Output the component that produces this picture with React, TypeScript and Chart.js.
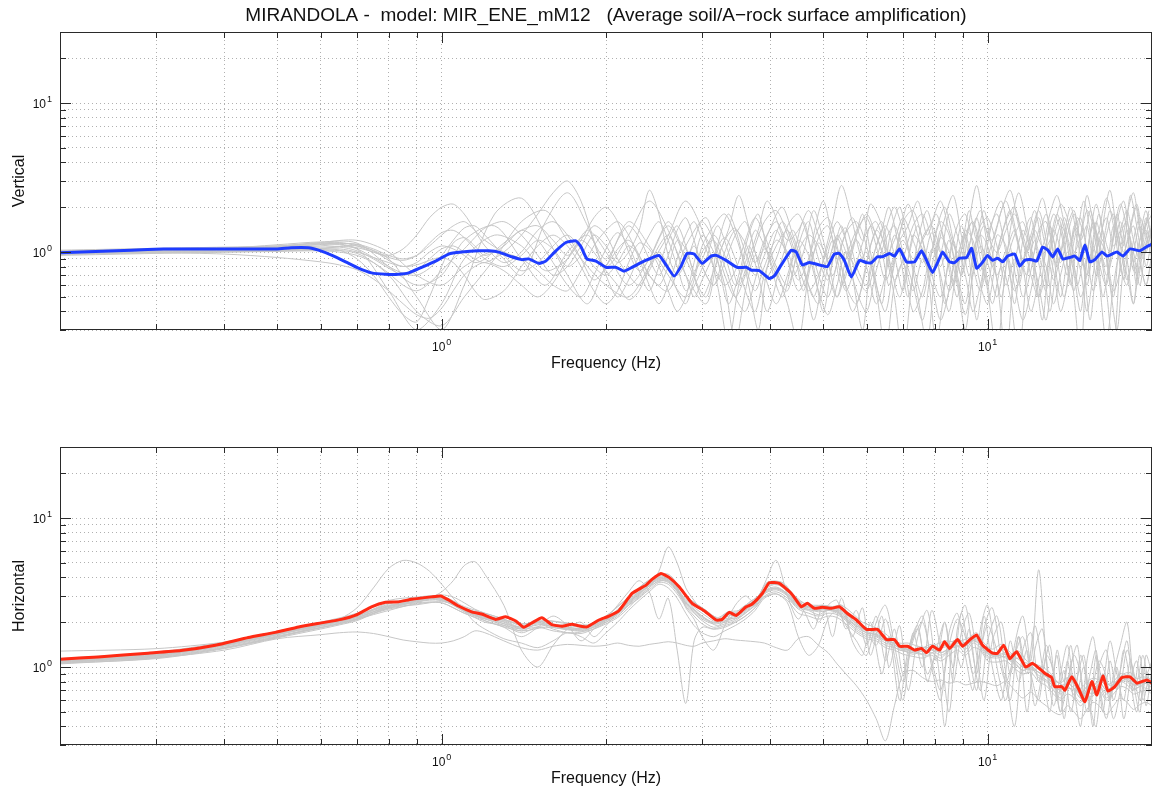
import React, { useEffect, useRef } from 'react';
import { Chart, registerables } from 'chart.js';

Chart.register(...registerables);

// ---------------- text ----------------
const MAIN_TITLE = 'MIRANDOLA -  model: MIR_ENE_mM12   (Average soil/A\u2212rock surface amplification)';
const X_TITLE = 'Frequency (Hz)';
const Y_TITLE_TOP = 'Vertical';
const Y_TITLE_BOTTOM = 'Horizontal';

// ---------------- axes ----------------
const X_MIN = 0.2;
const X_MAX = 20;
const Y_MIN = 0.3;
const Y_MAX = 30;
const X_TICKS = [0.2, 0.3, 0.4, 0.5, 0.6, 0.7, 0.8, 0.9, 1, 2, 3, 4, 5, 6, 7, 8, 9, 10, 20];
const Y_TICKS = [0.3, 0.4, 0.5, 0.6, 0.7, 0.8, 0.9, 1, 2, 3, 4, 5, 6, 7, 8, 9, 10, 20, 30];
const MAJOR_VALUES = [1, 10];
const MAJOR_BASE = '10';
const MAJOR_EXPONENTS = ['0', '1'];

// ---------------- vertical: average (blue) ----------------
const FREQ_V = [0.2, 0.27, 0.31, 0.36, 0.41, 0.5, 0.53, 0.57, 0.595, 0.63, 0.667, 0.704, 0.744, 0.789, 0.834, 0.87, 0.919, 0.975, 1.03, 1.088, 1.169, 1.22, 1.272, 1.344, 1.402, 1.444, 1.507, 1.551, 1.619, 1.689, 1.762, 1.799, 1.845, 1.917, 2.0, 2.086, 2.158, 2.232, 2.348, 2.501, 2.576, 2.666, 2.745, 2.815, 2.9, 3.0, 3.116, 3.182, 3.319, 3.477, 3.612, 3.69, 3.817, 3.981, 4.066, 4.188, 4.369, 4.462, 4.577, 4.714, 4.918, 5.087, 5.24, 5.351, 5.465, 5.63, 5.823, 5.998, 6.126, 6.283, 6.417, 6.61, 6.751, 6.895, 7.103, 7.347, 7.567, 7.729, 7.927, 8.165, 8.269, 8.518, 8.698, 8.884, 9.152, 9.346, 9.546, 9.75, 10.0, 10.21, 10.43, 10.65, 10.88, 11.21, 11.45, 11.69, 12.04, 12.3, 12.61, 12.89, 13.16, 13.44, 13.73, 14.14, 14.44, 14.75, 15.07, 15.39, 15.72, 16.19, 16.54, 16.89, 17.25, 17.7, 18.23, 19.01, 19.58, 20.0];
const MEAN_V = [0.99, 1.03, 1.05, 1.05, 1.05, 1.05, 1.07, 1.07, 1.03, 0.95, 0.86, 0.78, 0.725, 0.71, 0.71, 0.725, 0.79, 0.87, 0.97, 1.0, 1.02, 1.02, 1.0, 0.93, 0.89, 0.9, 0.84, 0.87, 1.02, 1.16, 1.19, 1.09, 0.9, 0.87, 0.79, 0.79, 0.745, 0.79, 0.87, 0.95, 0.82, 0.69, 0.805, 0.98, 0.97, 0.84, 0.94, 0.95, 0.88, 0.79, 0.79, 0.756, 0.75, 0.665, 0.69, 0.82, 1.03, 1.0, 0.82, 0.85, 0.82, 0.8, 0.97, 0.98, 0.88, 0.68, 0.88, 0.85, 0.85, 0.93, 0.93, 0.98, 0.94, 1.05, 0.86, 0.86, 1.02, 0.88, 0.73, 0.91, 1.0, 0.86, 0.85, 0.91, 0.92, 1.06, 0.78, 0.84, 0.95, 0.88, 0.91, 0.86, 0.94, 0.97, 0.805, 0.88, 0.89, 0.87, 1.08, 1.03, 0.93, 1.05, 0.9, 0.92, 0.94, 0.88, 1.115, 0.86, 0.89, 1.0, 0.94, 0.97, 1.0, 0.94, 1.05, 1.02, 1.09, 1.13];

// ---------------- horizontal: average (red) ----------------
const FREQ_H = [0.2, 0.235, 0.29, 0.333, 0.385, 0.4425, 0.496, 0.547, 0.602, 0.655, 0.696, 0.744, 0.789, 0.834, 0.881, 0.958, 0.996, 1.03, 1.074, 1.135, 1.184, 1.256, 1.31, 1.367, 1.414, 1.463, 1.526, 1.591, 1.66, 1.732, 1.784, 1.845, 1.941, 2.025, 2.112, 2.232, 2.368, 2.428, 2.522, 2.609, 2.722, 2.876, 3.025, 3.182, 3.264, 3.362, 3.463, 3.612, 3.705, 3.866, 3.981, 4.153, 4.369, 4.557, 4.674, 4.815, 4.981, 5.173, 5.351, 5.536, 5.751, 5.998, 6.283, 6.527, 6.751, 6.895, 7.134, 7.347, 7.567, 7.729, 7.927, 8.165, 8.34, 8.518, 8.81, 8.998, 9.268, 9.546, 9.79, 10.21, 10.43, 10.7, 10.98, 11.3, 11.74, 12.09, 12.72, 13.1, 13.27, 13.67, 13.85, 14.26, 14.69, 15.07, 15.52, 15.85, 16.26, 16.61, 17.1, 17.62, 18.23, 18.77, 19.58, 20.0];
const MEAN_H = [1.13, 1.17, 1.24, 1.29, 1.4, 1.58, 1.71, 1.86, 1.98, 2.09, 2.23, 2.54, 2.72, 2.74, 2.85, 2.96, 3.0, 2.82, 2.57, 2.35, 2.27, 2.09, 2.18, 2.04, 1.85, 1.98, 2.14, 1.93, 1.88, 1.94, 1.89, 1.86, 2.07, 2.2, 2.39, 3.12, 3.55, 3.88, 4.25, 4.0, 3.46, 2.68, 2.39, 2.07, 2.09, 2.33, 2.22, 2.54, 2.65, 3.12, 3.68, 3.645, 3.12, 2.54, 2.68, 2.48, 2.52, 2.48, 2.54, 2.29, 2.07, 1.79, 1.79, 1.53, 1.53, 1.38, 1.38, 1.3, 1.335, 1.25, 1.38, 1.3, 1.48, 1.335, 1.53, 1.38, 1.52, 1.64, 1.4, 1.24, 1.24, 1.4, 1.14, 1.27, 1.0, 1.06, 0.91, 0.85, 0.74, 0.74, 0.7, 0.86, 0.71, 0.585, 0.8, 0.65, 0.87, 0.69, 0.74, 0.85, 0.86, 0.78, 0.82, 0.78];

// ---------------- individual records (grey) ----------------
const FREQ_G = [0.2, 0.3, 0.4, 0.5, 0.6, 0.65, 0.7, 0.75, 0.8, 0.85, 0.9, 0.95, 1.0, 1.05, 1.1, 1.15, 1.2, 1.3, 1.4, 1.5, 1.6, 1.7, 1.8, 1.9, 2.0, 2.1, 2.2, 2.3, 2.4, 2.5, 2.6, 2.7, 2.8, 2.9, 3.0, 3.15, 3.3, 3.45, 3.6, 3.75, 3.9, 4.1, 4.3, 4.5, 4.7, 4.9, 5.1, 5.3, 5.5, 5.75, 6.0, 6.25, 6.5, 6.75, 7.0, 7.3, 7.6, 7.9, 8.2, 8.5, 8.8, 9.1, 9.4, 9.7, 10.0, 10.4, 10.8, 11.2, 11.6, 12.0, 12.4, 12.8, 13.2, 13.6, 14.0, 14.4, 14.8, 15.2, 15.6, 16.0, 16.5, 17.0, 17.5, 18.0, 18.5, 19.0, 19.5, 20.0];
const FREQ_G2 = [0.2, 0.3, 0.4, 0.5, 0.6, 0.7, 0.8, 0.9, 1.0, 1.1, 1.25, 1.4, 1.55, 1.7, 1.85, 2.0, 2.2, 2.4, 2.6, 2.8, 3.05, 3.2, 3.35, 3.5, 3.65, 3.8, 3.95, 4.2, 4.4, 4.6, 4.8, 5.0, 5.2, 5.4, 5.65, 5.9, 6.1, 6.4, 6.6, 6.9, 7.15, 7.45, 7.75, 8.05, 8.35, 8.65, 8.95, 9.25, 9.55, 9.85, 10.2, 10.6, 11.0, 11.4, 11.8, 12.2, 12.6, 13.0, 13.4, 13.8, 14.2, 14.6, 15.0, 15.4, 15.8, 16.25, 16.75, 17.25, 17.75, 18.25, 18.75, 19.25, 19.75];

const V_REC_01 = [0.98, 1.02, 1.05, 1.06, 1.1, 1.12, 1.05, 0.92, 0.8, 0.72, 0.7, 0.78, 0.95, 1.2, 1.45, 1.5, 1.3, 0.95, 0.75, 0.85, 1.1, 1.3, 1.05, 0.8, 0.7, 0.85, 1.1, 0.95, 0.7, 0.6, 0.8, 1.2, 1.05, 0.75, 0.9, 1.3, 0.95, 0.6, 0.85, 1.4, 1.1, 0.7, 0.55, 1.1, 1.6, 0.9, 0.65, 1.2, 1.45, 0.8, 0.6, 1.1, 1.5, 0.95, 0.55, 1.3, 1.05, 0.7, 1.4, 0.85, 0.5, 1.2, 1.6, 0.9, 0.6, 1.3, 1.1, 0.45, 1.2, 1.7, 0.85, 0.55, 1.4, 1.05, 0.7, 1.5, 1.2, 0.6, 1.1, 1.8, 0.9, 0.5, 1.3, 1.6, 0.85, 1.2, 1.4, 1.05];
const V_REC_02 = [1.0, 0.99, 0.97, 0.92, 0.86, 0.82, 0.76, 0.66, 0.55, 0.45, 0.38, 0.36, 0.42, 0.55, 0.7, 0.8, 0.85, 0.75, 0.6, 0.5, 0.62, 0.9, 1.2, 1.0, 0.75, 0.6, 0.48, 0.55, 0.8, 1.1, 1.3, 1.0, 0.7, 0.5, 0.65, 0.95, 1.25, 0.9, 0.55, 0.4, 0.7, 1.1, 1.4, 0.95, 0.6, 0.45, 0.8, 1.3, 1.0, 0.55, 0.4, 0.75, 1.2, 1.5, 1.0, 0.6, 0.35, 0.8, 1.25, 1.0, 0.6, 0.3, 0.75, 1.3, 1.1, 0.65, 0.2, 0.8, 1.4, 1.0, 0.6, 0.35, 0.9, 1.5, 1.2, 0.7, 0.4, 0.95, 1.6, 1.1, 0.55, 0.22, 0.85, 1.4, 1.0, 0.6, 1.1, 1.3];
const V_REC_03 = [1.03, 1.06, 1.08, 1.1, 1.15, 1.16, 1.1, 1.0, 0.95, 1.05, 1.3, 1.7, 2.0, 2.1, 1.8, 1.4, 1.1, 0.85, 1.0, 1.4, 1.6, 1.3, 0.9, 0.65, 0.8, 1.2, 1.5, 1.25, 0.9, 0.7, 0.95, 1.4, 1.7, 1.2, 0.8, 0.6, 0.85, 1.3, 1.6, 1.0, 0.65, 0.9, 1.5, 1.8, 1.2, 0.7, 0.5, 0.85, 1.35, 1.6, 1.1, 0.6, 0.4, 0.9, 1.6, 1.9, 1.2, 0.7, 0.5, 0.9, 1.5, 1.8, 1.1, 0.6, 0.45, 0.95, 1.6, 2.0, 1.2, 0.7, 0.5, 1.1, 1.8, 1.4, 0.8, 0.55, 1.2, 1.9, 1.5, 0.85, 0.6, 1.3, 2.1, 1.4, 0.75, 1.0, 1.7, 1.2];
const V_REC_04 = [0.97, 1.0, 1.03, 1.04, 1.06, 1.08, 1.02, 0.9, 0.78, 0.7, 0.75, 0.9, 1.05, 1.1, 1.0, 0.9, 0.85, 1.0, 1.3, 1.8, 2.5, 3.0, 2.2, 1.2, 0.7, 0.5, 0.65, 0.95, 1.3, 1.6, 1.2, 0.8, 0.55, 0.7, 1.1, 1.5, 1.8, 1.3, 0.8, 0.55, 0.8, 1.2, 1.0, 0.65, 0.9, 1.45, 1.7, 1.1, 0.6, 0.45, 0.85, 1.4, 1.1, 0.65, 0.9, 1.5, 1.8, 1.2, 0.7, 0.4, 0.85, 1.4, 1.2, 0.75, 1.3, 1.8, 1.0, 0.55, 0.85, 1.3, 1.9, 1.2, 0.65, 0.95, 1.5, 1.9, 1.1, 0.7, 1.0, 1.4, 2.3, 1.5, 0.8, 0.6, 1.2, 1.7, 1.3, 0.9];
const V_REC_05 = [0.99, 1.01, 1.02, 1.03, 1.05, 1.03, 0.9, 0.7, 0.5, 0.38, 0.34, 0.5, 0.8, 1.15, 1.25, 1.1, 0.95, 1.1, 1.4, 1.2, 0.85, 0.6, 0.5, 0.7, 1.05, 1.35, 1.1, 0.75, 0.55, 0.8, 1.2, 1.5, 1.1, 0.7, 0.5, 0.75, 1.2, 1.45, 1.0, 0.7, 0.95, 1.4, 0.9, 0.55, 0.75, 1.25, 1.5, 0.9, 0.55, 0.85, 1.35, 1.6, 1.0, 0.5, 0.2, 0.7, 1.25, 1.5, 1.0, 0.55, 0.8, 1.3, 1.6, 1.1, 0.55, 0.22, 0.8, 1.3, 1.6, 1.0, 0.5, 0.75, 1.25, 1.7, 1.1, 0.5, 0.2, 0.9, 1.5, 1.2, 0.7, 1.0, 1.6, 0.9, 0.45, 1.2, 1.9, 1.1];
const V_REC_06 = [1.01, 1.04, 1.06, 1.08, 1.12, 1.14, 1.13, 1.05, 0.95, 0.9, 0.95, 1.1, 1.3, 1.5, 1.6, 1.4, 1.2, 1.0, 0.9, 0.75, 0.6, 0.55, 0.75, 1.1, 1.4, 1.6, 1.3, 0.9, 0.6, 0.45, 0.6, 0.9, 1.3, 1.6, 1.2, 0.8, 0.6, 0.75, 1.2, 1.7, 1.3, 0.8, 0.6, 1.0, 1.3, 1.1, 0.7, 0.5, 0.9, 1.4, 1.7, 1.1, 0.65, 0.9, 1.2, 0.8, 0.5, 1.0, 1.6, 1.3, 0.7, 0.45, 0.95, 1.5, 1.7, 1.1, 0.6, 0.9, 0.5, 0.75, 1.4, 1.6, 0.95, 0.5, 0.9, 1.4, 1.7, 1.0, 0.55, 0.8, 1.3, 1.8, 1.1, 0.65, 1.0, 1.5, 0.8, 1.25];
const V_REC_07 = [0.96, 0.99, 1.0, 1.01, 1.02, 1.0, 0.95, 0.85, 0.72, 0.6, 0.55, 0.62, 0.75, 0.9, 1.05, 1.25, 1.45, 1.6, 1.3, 0.95, 0.7, 0.8, 1.1, 1.5, 1.3, 0.9, 0.7, 0.6, 0.75, 1.0, 0.8, 0.55, 0.45, 0.65, 1.0, 1.2, 0.8, 0.5, 0.4, 0.65, 1.05, 0.75, 0.45, 0.25, 0.7, 1.15, 0.85, 0.5, 0.75, 1.2, 0.8, 0.45, 0.7, 1.3, 0.9, 0.4, 0.55, 1.05, 0.8, 1.2, 0.65, 0.38, 0.7, 1.1, 0.85, 0.5, 0.95, 1.4, 0.8, 0.4, 0.65, 1.1, 0.75, 0.4, 0.6, 1.0, 0.75, 0.4, 0.7, 1.2, 0.95, 0.55, 0.75, 1.15, 1.5, 0.9, 0.6, 0.95];
const V_REC_08 = [1.02, 1.05, 1.07, 1.09, 1.13, 1.15, 1.12, 1.02, 0.88, 0.8, 0.85, 1.0, 1.1, 1.05, 0.95, 0.85, 0.9, 1.15, 1.4, 1.5, 1.2, 0.95, 1.2, 1.7, 2.0, 1.6, 1.0, 0.75, 0.9, 1.25, 1.6, 1.3, 0.9, 1.2, 1.6, 1.2, 0.7, 0.5, 0.7, 1.1, 1.6, 1.9, 1.3, 0.8, 0.55, 0.7, 1.1, 1.6, 1.2, 0.7, 0.55, 0.9, 1.4, 2.0, 1.4, 0.9, 1.2, 1.6, 2.2, 1.4, 1.0, 1.3, 0.8, 0.55, 0.9, 1.5, 2.2, 1.4, 0.9, 1.2, 1.7, 1.1, 1.4, 2.1, 1.7, 1.0, 1.3, 2.4, 1.6, 1.1, 0.8, 1.5, 1.1, 1.8, 2.5, 1.4, 1.0, 1.6];
const V_REC_09 = [0.98, 1.0, 1.01, 1.02, 1.04, 1.05, 1.0, 0.92, 0.85, 0.8, 0.82, 0.88, 0.92, 0.85, 0.7, 0.55, 0.48, 0.55, 0.8, 1.1, 1.3, 1.1, 0.8, 0.55, 0.45, 0.55, 0.85, 1.15, 1.05, 0.8, 0.55, 0.4, 0.5, 0.85, 1.3, 1.0, 0.6, 0.25, 0.55, 0.95, 0.7, 0.45, 0.7, 1.2, 0.95, 0.55, 0.38, 0.6, 1.0, 0.8, 1.0, 0.55, 0.22, 0.6, 0.85, 0.55, 0.9, 0.6, 0.35, 0.55, 1.0, 0.7, 0.4, 0.6, 0.95, 0.7, 1.0, 0.6, 0.35, 0.55, 1.0, 0.8, 0.45, 0.7, 1.0, 0.8, 0.5, 0.7, 1.1, 0.65, 0.25, 0.6, 1.0, 0.7, 0.45, 0.8, 0.6, 1.0];
const V_REC_10 = [1.0, 1.03, 1.05, 1.07, 1.08, 1.09, 1.07, 1.0, 0.92, 0.88, 0.95, 1.15, 1.35, 1.4, 1.25, 1.05, 0.9, 0.8, 0.95, 1.2, 1.05, 0.8, 0.95, 1.3, 1.1, 0.85, 1.0, 1.4, 2.6, 1.8, 0.95, 0.7, 0.85, 1.1, 0.8, 0.6, 1.0, 1.4, 1.15, 0.85, 1.2, 1.6, 1.2, 1.4, 1.9, 1.3, 0.9, 1.25, 0.9, 1.3, 1.8, 1.3, 0.95, 1.2, 1.7, 1.2, 0.85, 1.35, 1.0, 1.8, 1.3, 0.9, 1.4, 1.9, 1.3, 1.0, 1.4, 1.8, 1.3, 0.9, 1.25, 1.8, 1.2, 0.85, 1.3, 1.8, 1.2, 1.5, 0.9, 1.2, 1.7, 1.1, 1.4, 1.9, 1.2, 0.9, 1.5, 1.8];
const V_REC_11 = [1.0, 1.02, 1.04, 1.08, 1.14, 1.05, 0.55, 0.3, 0.45, 0.9, 1.3, 1.1, 0.75, 0.9, 1.4, 1.0, 0.6, 0.9, 1.5, 0.9, 0.5, 1.1, 1.8, 1.2, 0.6, 0.3, 0.8, 1.6, 1.1, 0.55, 1.3, 2.2, 1.2, 0.6, 1.0, 1.8, 1.0, 0.45, 1.2, 2.0, 1.1, 0.5, 0.25, 0.9, 1.7, 2.4, 1.3, 0.7, 1.2, 1.9, 1.0, 0.5, 1.4, 2.5, 1.5, 0.8, 0.35, 1.1, 1.8, 1.2, 0.6, 1.3, 2.2, 1.4, 0.7, 1.5, 2.6, 1.3, 0.65, 1.4, 2.0, 1.1, 1.6];
const V_REC_12 = [0.95, 0.98, 1.0, 1.02, 1.05, 1.1, 0.9, 0.5, 0.3, 0.6, 1.8, 2.3, 1.3, 0.7, 0.45, 0.8, 1.2, 0.7, 0.55, 1.1, 1.7, 0.9, 0.45, 0.7, 1.3, 1.8, 1.0, 0.5, 0.9, 1.6, 0.8, 0.4, 0.9, 1.5, 0.7, 0.3, 0.8, 1.4, 2.0, 1.0, 0.5, 1.2, 1.9, 1.0, 0.45, 0.8, 1.5, 0.9, 0.35, 0.8, 1.6, 2.2, 1.1, 0.6, 1.2, 1.9, 1.0, 0.4, 0.9, 1.7, 1.2, 0.6, 1.0, 1.9, 1.3, 0.5, 0.9, 1.6, 2.2, 1.2, 0.7, 1.3, 1.9];
const V_REC_13 = [1.02, 1.04, 1.06, 1.1, 1.16, 1.2, 1.0, 0.7, 0.6, 0.8, 1.0, 0.7, 1.6, 2.5, 1.5, 0.8, 1.3, 2.2, 1.4, 0.7, 0.45, 0.9, 1.4, 2.4, 1.5, 0.9, 1.3, 2.0, 1.3, 0.8, 0.5, 0.9, 1.6, 2.8, 1.6, 0.9, 1.5, 1.0, 0.6, 1.3, 2.1, 1.3, 0.8, 1.4, 2.0, 1.2, 0.7, 1.6, 2.8, 1.5, 0.8, 1.3, 1.9, 1.1, 0.7, 1.5, 2.3, 1.4, 0.8, 1.3, 2.0, 1.2, 0.8, 1.3, 2.1, 1.4, 1.0, 1.8, 1.1, 2.4, 1.5, 0.9, 1.4];
const V_REC_14 = [0.97, 0.99, 1.01, 1.02, 1.03, 0.98, 0.7, 0.4, 0.32, 0.5, 0.9, 1.6, 1.9, 1.2, 0.8, 0.6, 0.5, 0.8, 1.3, 2.2, 1.2, 0.6, 0.25, 0.6, 1.1, 0.7, 0.4, 0.9, 1.4, 0.8, 0.35, 0.7, 1.2, 0.8, 0.4, 0.6, 1.1, 1.6, 0.9, 0.5, 0.9, 1.5, 0.8, 0.25, 0.6, 1.2, 0.7, 1.1, 1.7, 0.9, 0.45, 0.8, 0.5, 0.2, 0.7, 1.2, 0.8, 1.5, 0.9, 0.5, 0.9, 1.4, 0.8, 0.35, 0.75, 1.2, 0.6, 0.3, 0.8, 1.1, 0.6, 1.0, 1.3];
const V_REC_15 = [1.01, 1.03, 1.06, 1.12, 1.17, 1.15, 0.8, 0.6, 0.7, 1.2, 1.5, 0.9, 0.6, 1.0, 1.3, 0.9, 1.6, 1.1, 0.7, 0.5, 0.9, 1.5, 1.0, 0.6, 0.9, 1.4, 2.2, 1.3, 0.7, 1.0, 1.9, 1.2, 0.7, 1.1, 1.7, 1.2, 2.1, 1.5, 0.8, 1.2, 1.5, 2.2, 1.3, 1.8, 1.1, 0.6, 1.0, 1.9, 1.2, 1.5, 1.2, 1.9, 2.6, 1.5, 1.0, 1.4, 1.1, 1.8, 2.4, 1.6, 1.1, 1.7, 1.3, 0.9, 1.6, 1.2, 1.9, 1.4, 1.0, 1.5, 2.1, 1.4, 1.8];

const H_REC_01 = [1.08, 1.18, 1.38, 1.62, 1.85, 1.95, 2.1, 2.35, 2.55, 2.65, 2.75, 2.85, 2.8, 2.6, 2.35, 2.2, 2.1, 1.95, 1.75, 1.95, 1.8, 1.7, 1.72, 1.85, 2.0, 2.2, 2.6, 3.0, 3.4, 3.8, 3.7, 3.2, 2.6, 2.3, 2.05, 1.85, 1.95, 2.05, 2.3, 2.6, 3.1, 3.3, 3.0, 2.5, 2.4, 2.25, 2.4, 2.3, 2.1, 1.8, 1.65, 1.6, 1.45, 1.4, 1.3, 1.22, 1.28, 1.25, 1.15, 1.3, 1.4, 1.25, 1.45, 1.35, 1.15, 1.2, 1.15, 1.05, 0.95, 1.0, 0.85, 0.8, 0.7, 0.62, 0.75, 0.65, 0.58, 0.68, 0.66, 0.75, 0.62, 0.72, 0.8, 0.76, 0.7, 0.74, 0.72, 0.7];
const H_REC_02 = [1.28, 1.33, 1.47, 1.68, 1.92, 2.02, 2.15, 2.35, 2.5, 2.62, 2.78, 2.95, 3.05, 2.95, 2.7, 2.45, 2.3, 2.1, 1.9, 2.05, 1.9, 1.85, 1.82, 1.95, 2.15, 2.35, 2.75, 3.15, 3.6, 4.0, 3.85, 3.35, 2.75, 2.45, 2.2, 2.0, 2.1, 2.2, 2.45, 2.75, 3.25, 3.45, 3.1, 2.65, 2.55, 2.45, 2.5, 2.45, 2.25, 1.95, 1.8, 1.72, 1.55, 1.5, 1.38, 1.32, 1.35, 1.42, 1.35, 1.4, 1.55, 1.45, 1.6, 1.5, 1.3, 1.25, 1.32, 1.18, 1.08, 1.05, 0.98, 0.92, 0.82, 0.78, 0.85, 0.78, 0.72, 0.8, 0.84, 0.82, 0.76, 0.8, 0.9, 0.88, 0.82, 0.8, 0.85, 0.82];
const H_REC_03 = [1.05, 1.15, 1.35, 1.58, 1.9, 2.1, 2.5, 3.4, 4.6, 5.2, 5.0, 4.4, 3.6, 2.9, 2.4, 2.0, 1.8, 1.55, 1.45, 1.35, 1.5, 1.7, 1.6, 1.45, 1.7, 2.0, 2.4, 2.8, 3.2, 3.6, 3.4, 2.9, 2.3, 1.9, 1.7, 1.6, 1.75, 1.9, 2.1, 2.4, 2.9, 3.1, 2.8, 2.3, 2.2, 2.1, 2.2, 2.15, 1.95, 1.7, 1.55, 1.5, 1.35, 1.3, 1.22, 1.18, 1.15, 1.2, 1.1, 1.2, 1.3, 1.2, 1.35, 1.3, 1.1, 1.08, 1.1, 0.98, 0.9, 0.92, 0.8, 0.75, 0.66, 0.6, 0.66, 0.62, 0.55, 0.62, 0.64, 0.7, 0.6, 0.66, 0.74, 0.72, 0.66, 0.68, 0.7, 0.66];
const H_REC_04 = [1.1, 1.2, 1.4, 1.65, 1.92, 2.0, 2.1, 2.25, 2.4, 2.55, 2.7, 2.9, 3.2, 3.8, 4.8, 5.1, 4.2, 2.6, 1.3, 1.0, 1.4, 1.8, 2.0, 1.6, 1.9, 2.3, 2.6, 2.9, 3.4, 4.4, 6.4, 5.0, 3.4, 2.8, 2.4, 2.2, 2.0, 2.3, 2.6, 2.8, 3.3, 3.6, 3.2, 2.8, 2.6, 2.5, 2.55, 2.35, 2.1, 1.9, 1.7, 1.65, 1.5, 1.45, 1.35, 1.28, 1.3, 1.38, 1.25, 1.35, 1.5, 1.4, 1.55, 1.45, 1.25, 1.2, 1.25, 1.12, 1.0, 1.0, 0.92, 0.88, 0.76, 0.7, 0.78, 0.72, 0.66, 0.74, 0.76, 0.8, 0.7, 0.76, 0.84, 0.84, 0.76, 0.76, 0.8, 0.76];
const H_REC_05 = [1.1, 1.16, 1.3, 1.55, 1.65, 1.7, 1.72, 1.68, 1.6, 1.52, 1.48, 1.45, 1.45, 1.5, 1.6, 1.75, 1.7, 1.5, 1.35, 1.3, 1.38, 1.42, 1.4, 1.38, 1.4, 1.45, 1.4, 1.38, 1.42, 1.45, 1.48, 1.45, 1.4, 1.38, 1.45, 1.5, 1.55, 1.52, 1.5, 1.48, 1.45, 1.35, 1.3, 1.55, 1.6, 1.4, 1.25, 1.05, 0.9, 0.75, 0.6, 0.45, 0.32, 0.55, 0.9, 0.95, 0.85, 0.8, 0.82, 0.78, 0.8, 0.76, 0.78, 0.8, 0.78, 0.75, 0.8, 0.7, 0.62, 0.68, 0.6, 0.55, 0.5, 0.48, 0.55, 0.5, 0.45, 0.52, 0.58, 0.55, 0.48, 0.55, 0.62, 0.58, 0.52, 0.56, 0.58, 0.55];
const H_REC_06 = [1.07, 1.17, 1.36, 1.6, 1.83, 1.95, 2.08, 2.3, 2.48, 2.58, 2.62, 2.7, 2.75, 2.65, 2.45, 2.25, 2.05, 1.85, 1.6, 1.85, 2.2, 1.9, 1.5, 1.8, 2.1, 2.6, 3.2, 3.8, 3.2, 2.1, 2.9, 1.3, 0.57, 1.5, 1.85, 1.8, 1.9, 2.0, 2.2, 2.5, 3.0, 3.2, 2.9, 2.45, 2.3, 2.2, 2.3, 2.25, 2.05, 1.75, 1.6, 1.55, 1.4, 1.35, 1.28, 1.25, 1.22, 1.3, 1.2, 1.3, 1.45, 1.32, 1.5, 1.4, 1.18, 1.15, 1.18, 1.08, 0.95, 0.98, 0.88, 0.82, 0.74, 0.66, 0.72, 0.7, 0.62, 0.7, 0.72, 0.76, 0.66, 0.72, 0.8, 0.8, 0.72, 0.74, 0.78, 0.72];
const H_REC_07 = [1.12, 1.22, 1.42, 1.7, 1.95, 2.05, 2.2, 2.45, 2.6, 2.7, 2.85, 2.95, 2.9, 2.7, 2.4, 2.25, 2.15, 2.0, 1.8, 2.0, 1.85, 1.8, 1.8, 1.95, 2.1, 2.3, 2.75, 3.2, 3.7, 4.1, 3.9, 3.4, 2.5, 2.1, 1.6, 1.3, 1.9, 2.6, 3.0, 2.7, 3.6, 5.2, 3.0, 2.1, 2.7, 2.0, 2.6, 2.8, 1.8, 2.4, 1.4, 2.2, 1.1, 1.8, 0.9, 1.6, 2.2, 1.0, 0.6, 1.7, 2.3, 1.2, 0.7, 1.8, 2.6, 1.0, 0.6, 1.4, 2.2, 1.1, 4.5, 1.2, 0.55, 0.9, 1.4, 0.7, 0.4, 1.1, 1.6, 0.8, 0.45, 0.9, 1.4, 2.0, 0.8, 0.5, 1.2, 0.9];
const H_REC_08 = [1.06, 1.14, 1.33, 1.57, 1.8, 1.92, 2.05, 2.28, 2.45, 2.55, 2.65, 2.72, 2.7, 2.5, 2.3, 2.15, 2.0, 1.9, 1.7, 1.85, 1.75, 1.7, 1.68, 1.8, 1.95, 2.15, 2.5, 2.95, 3.3, 3.7, 3.6, 3.1, 2.55, 2.2, 1.95, 1.8, 1.85, 2.0, 2.2, 2.5, 2.95, 3.1, 2.7, 1.6, 1.2, 1.4, 2.1, 2.4, 1.9, 1.5, 1.2, 2.0, 2.6, 1.4, 0.8, 1.5, 2.0, 1.1, 0.7, 1.4, 2.1, 1.6, 0.9, 1.3, 1.9, 1.3, 0.8, 1.2, 1.6, 0.9, 0.6, 1.2, 0.95, 0.5, 0.8, 1.2, 0.9, 0.5, 0.75, 1.1, 0.85, 0.45, 0.7, 1.3, 0.9, 0.6, 0.85, 1.1];
const H_REC_09 = [1.09, 1.19, 1.4, 1.65, 1.88, 1.98, 2.12, 2.4, 2.55, 2.68, 2.8, 2.88, 2.85, 2.62, 2.38, 2.22, 2.12, 2.02, 1.82, 1.98, 1.85, 1.78, 1.75, 1.88, 2.05, 2.25, 2.65, 3.05, 3.5, 3.9, 3.75, 3.25, 2.65, 2.35, 2.1, 1.95, 2.0, 2.1, 2.35, 2.65, 3.15, 3.35, 3.05, 2.55, 2.45, 2.35, 2.4, 2.35, 2.15, 1.85, 1.7, 1.65, 1.5, 1.45, 1.32, 1.3, 1.28, 1.32, 1.25, 1.32, 1.48, 1.38, 1.52, 1.42, 1.22, 1.18, 1.22, 1.12, 1.0, 1.02, 0.92, 0.86, 0.76, 0.7, 0.78, 0.72, 0.66, 0.74, 0.74, 0.8, 0.7, 0.76, 0.84, 0.82, 0.76, 0.78, 0.8, 0.76];
const H_REC_10 = [1.1, 1.21, 1.41, 1.67, 1.93, 2.03, 2.18, 2.42, 2.58, 2.68, 2.8, 2.9, 2.88, 2.66, 2.42, 2.28, 2.18, 2.05, 1.85, 2.02, 1.9, 1.82, 1.8, 1.92, 2.08, 2.28, 2.7, 3.1, 3.55, 3.95, 3.8, 3.3, 2.7, 2.4, 2.15, 1.98, 2.05, 2.15, 2.4, 2.7, 3.2, 3.4, 3.1, 2.6, 2.5, 2.4, 2.45, 2.4, 2.2, 1.9, 1.75, 1.4, 2.1, 1.2, 0.6, 1.7, 1.0, 2.4, 1.3, 0.5, 1.8, 2.6, 1.2, 0.7, 1.5, 2.2, 0.9, 0.4, 1.3, 1.7, 0.8, 1.4, 0.9, 0.5, 1.1, 0.6, 1.2, 0.8, 0.4, 1.0, 1.3, 0.6, 0.95, 1.5, 0.7, 1.2, 0.55, 1.0];
const H_REC_11 = [1.07, 1.2, 1.4, 1.66, 1.9, 2.15, 2.55, 2.75, 2.8, 2.4, 2.0, 1.8, 1.9, 1.85, 1.8, 2.05, 2.8, 3.6, 3.9, 2.8, 2.2, 2.0, 2.2, 2.25, 2.5, 2.8, 3.5, 3.5, 2.9, 2.5, 2.4, 2.45, 2.4, 2.4, 2.1, 1.8, 1.7, 1.55, 1.45, 1.3, 1.3, 1.25, 1.2, 1.3, 1.4, 1.35, 1.4, 1.45, 1.55, 1.3, 1.2, 1.3, 1.1, 1.15, 0.98, 0.95, 0.9, 0.83, 0.72, 0.68, 0.8, 0.7, 0.58, 0.72, 0.65, 0.82, 0.68, 0.75, 0.82, 0.84, 0.76, 0.78, 0.77];
const H_REC_12 = [1.11, 1.23, 1.44, 1.7, 1.95, 2.2, 2.65, 2.85, 2.9, 2.5, 2.15, 1.95, 2.05, 1.95, 1.9, 2.2, 2.95, 3.8, 4.1, 3.0, 2.4, 2.1, 2.35, 2.3, 2.7, 3.0, 3.7, 3.7, 3.1, 2.6, 2.55, 2.6, 2.5, 2.6, 1.6, 2.5, 1.2, 2.2, 1.0, 1.9, 0.7, 1.6, 2.4, 1.1, 2.0, 0.8, 1.7, 2.3, 1.2, 0.6, 1.5, 2.0, 0.9, 1.6, 0.5, 1.3, 1.8, 0.7, 1.2, 0.45, 1.0, 1.4, 0.6, 0.9, 1.3, 0.5, 1.1, 0.7, 1.3, 0.8, 0.5, 1.0, 0.7];
const H_REC_13 = [1.06, 1.16, 1.34, 1.6, 1.84, 2.1, 2.5, 2.7, 2.7, 2.3, 1.95, 1.75, 1.85, 1.8, 1.75, 2.0, 2.7, 3.5, 3.8, 2.7, 2.1, 1.9, 2.1, 2.15, 2.4, 2.7, 3.3, 3.3, 2.7, 2.4, 1.8, 2.6, 1.6, 2.9, 1.5, 1.2, 2.0, 0.9, 1.6, 0.6, 1.3, 1.9, 0.8, 1.2, 0.4, 1.5, 1.0, 1.8, 0.9, 2.2, 1.0, 0.6, 1.5, 0.8, 1.3, 0.55, 0.9, 1.4, 0.6, 0.95, 0.5, 0.85, 1.2, 0.55, 0.4, 0.9, 0.6, 1.0, 0.45, 0.8, 1.1, 0.6, 0.9];
const H_REC_14 = [1.14, 1.26, 1.47, 1.74, 2.0, 2.3, 2.8, 2.95, 3.0, 2.55, 2.2, 1.95, 2.05, 1.98, 1.92, 2.2, 2.95, 3.85, 4.2, 3.0, 2.4, 2.15, 2.35, 2.4, 2.7, 3.0, 3.7, 3.7, 3.1, 2.7, 2.6, 2.6, 2.55, 2.6, 2.3, 2.0, 1.9, 1.75, 1.6, 1.45, 1.45, 1.38, 1.35, 1.42, 1.5, 1.48, 1.5, 1.58, 1.7, 1.45, 1.32, 1.42, 1.22, 1.28, 1.1, 1.05, 1.0, 0.92, 0.8, 0.76, 0.9, 0.78, 0.66, 0.8, 0.72, 0.9, 0.75, 0.82, 0.9, 0.92, 0.84, 0.86, 0.85];
const H_REC_15 = [1.09, 1.2, 1.42, 1.68, 1.93, 2.2, 2.7, 2.85, 2.85, 2.45, 2.05, 1.85, 1.95, 1.9, 1.85, 2.1, 2.85, 3.7, 4.0, 2.85, 2.3, 2.05, 2.25, 2.3, 2.6, 2.9, 3.5, 3.6, 3.0, 2.6, 2.5, 2.5, 2.45, 2.5, 2.2, 1.85, 1.75, 1.6, 1.5, 1.35, 1.35, 1.8, 0.9, 1.3, 2.0, 1.0, 2.3, 1.2, 0.7, 1.8, 2.5, 1.1, 0.6, 1.6, 0.9, 1.9, 1.0, 0.5, 1.3, 0.8, 1.4, 0.7, 1.0, 0.5, 1.2, 0.8, 1.5, 0.9, 0.6, 1.1, 0.8, 1.2, 0.7];

const V_RECORDS_A = [V_REC_01, V_REC_02, V_REC_03, V_REC_04, V_REC_05, V_REC_06, V_REC_07, V_REC_08, V_REC_09, V_REC_10];
const V_RECORDS_B = [V_REC_11, V_REC_12, V_REC_13, V_REC_14, V_REC_15];
const H_RECORDS_A = [H_REC_01, H_REC_02, H_REC_03, H_REC_04, H_REC_05, H_REC_06, H_REC_07, H_REC_08, H_REC_09, H_REC_10];
const H_RECORDS_B = [H_REC_11, H_REC_12, H_REC_13, H_REC_14, H_REC_15];

// ---------------- style ----------------
const FONT = '"Liberation Sans", Arial, Helvetica, sans-serif';
const GREY = '#c6c6c6';
const BLUE = '#1e3cff';
const RED = '#ff2a14';
const GRID = '#b0b0b0';
const AXIS = '#2a2a2a';

type PanelProps = {
  top: number;
  height: number;
  pad: { left: number; right: number; top: number; bottom: number };
  meanFreq: number[];
  meanVals: number[];
  meanColor: string;
  recordsA: number[][];
  recordsB: number[][];
  yTitle: string;
  showTitle: boolean;
};

function pairs(xs: number[], ys: number[]) {
  const out: { x: number; y: number }[] = [];
  for (let i = 0; i < xs.length && i < ys.length; i++) out.push({ x: xs[i], y: ys[i] });
  return out;
}

function drawPow(ctx: CanvasRenderingContext2D, exp: string, x: number, y: number, align: 'center' | 'right') {
  ctx.font = `12px ${FONT}`;
  const wb = ctx.measureText(MAJOR_BASE).width;
  ctx.font = `9px ${FONT}`;
  const we = ctx.measureText(exp).width;
  const total = wb + 1 + we;
  const sx = align === 'center' ? x - total / 2 : x - total;
  ctx.textAlign = 'left';
  ctx.textBaseline = 'alphabetic';
  ctx.font = `12px ${FONT}`;
  ctx.fillText(MAJOR_BASE, sx, y);
  ctx.font = `9px ${FONT}`;
  ctx.fillText(exp, sx + wb + 1, y - 6);
}

function greyDataset(freq: number[], rec: number[]) {
  return {
    data: pairs(freq, rec),
    borderColor: GREY,
    borderWidth: 1,
    pointRadius: 0,
    tension: 0.3,
    order: 1,
  };
}

function Panel(props: PanelProps) {
  const ref = useRef<HTMLCanvasElement | null>(null);
  useEffect(() => {
    const canvas = ref.current;
    if (!canvas) return;
    const { yTitle, showTitle } = props;

    const axesPlugin = {
      id: 'matlabAxes',
      afterDatasetsDraw(chart: any) {
        const ctx: CanvasRenderingContext2D = chart.ctx;
        const { left, right, top, bottom } = chart.chartArea;
        const xs = chart.scales.x;
        const ys = chart.scales.y;
        ctx.save();
        ctx.strokeStyle = AXIS;
        ctx.lineWidth = 1;
        ctx.beginPath();
        for (const v of X_TICKS) {
          const px = Math.round(xs.getPixelForValue(v)) + 0.5;
          const len = MAJOR_VALUES.includes(v) ? 11 : 6;
          ctx.moveTo(px, bottom);
          ctx.lineTo(px, bottom - len);
          ctx.moveTo(px, top);
          ctx.lineTo(px, top + len);
        }
        for (const v of Y_TICKS) {
          const py = Math.round(ys.getPixelForValue(v)) + 0.5;
          const len = MAJOR_VALUES.includes(v) ? 11 : 6;
          ctx.moveTo(left, py);
          ctx.lineTo(left + len, py);
          ctx.moveTo(right, py);
          ctx.lineTo(right - len, py);
        }
        ctx.stroke();
        ctx.strokeRect(left + 0.5, top + 0.5, right - left - 1, bottom - top - 1);

        ctx.fillStyle = '#111';
        MAJOR_VALUES.forEach((v, i) => {
          const px = xs.getPixelForValue(v);
          drawPow(ctx, MAJOR_EXPONENTS[i], px, bottom + 20.5, 'center');
          const py = ys.getPixelForValue(v);
          drawPow(ctx, MAJOR_EXPONENTS[i], left - 8, py + 4.5, 'right');
        });

        ctx.font = `16px ${FONT}`;
        ctx.textAlign = 'center';
        ctx.textBaseline = 'alphabetic';
        ctx.fillText(X_TITLE, (left + right) / 2, bottom + 37.5);

        ctx.save();
        ctx.translate(24, (top + bottom) / 2);
        ctx.rotate(-Math.PI / 2);
        ctx.fillText(yTitle, 0, 0);
        ctx.restore();

        if (showTitle) {
          ctx.font = `19px ${FONT}`;
          ctx.fillText(MAIN_TITLE, (left + right) / 2, 20.5);
        }
        ctx.restore();
      },
    };

    const datasets: any[] = [
      {
        data: pairs(props.meanFreq, props.meanVals),
        borderColor: props.meanColor,
        borderWidth: 3,
        pointRadius: 0,
        tension: 0.15,
        order: 0,
        borderJoinStyle: 'round',
      },
      ...props.recordsA.map((rec) => greyDataset(FREQ_G, rec)),
      ...props.recordsB.map((rec) => greyDataset(FREQ_G2, rec)),
    ];

    const chart = new Chart(canvas, {
      type: 'line',
      data: { datasets },
      plugins: [axesPlugin],
      options: {
        animation: false,
        responsive: false,
        events: [],
        layout: { padding: props.pad },
        plugins: { legend: { display: false }, tooltip: { enabled: false }, title: { display: false } },
        scales: {
          x: {
            type: 'logarithmic',
            min: X_MIN,
            max: X_MAX,
            afterBuildTicks: (s: any) => {
              s.ticks = X_TICKS.map((v) => ({ value: v, major: MAJOR_VALUES.includes(v) }));
            },
            afterFit: (s: any) => {
              s.height = 0;
            },
            ticks: { display: false, autoSkip: false },
            grid: { drawTicks: false, color: GRID, lineWidth: 1 },
            border: { display: false, dash: [1, 3] },
          },
          y: {
            type: 'logarithmic',
            min: Y_MIN,
            max: Y_MAX,
            afterBuildTicks: (s: any) => {
              s.ticks = Y_TICKS.map((v) => ({ value: v, major: MAJOR_VALUES.includes(v) }));
            },
            afterFit: (s: any) => {
              s.width = 0;
            },
            ticks: { display: false, autoSkip: false },
            grid: { drawTicks: false, color: GRID, lineWidth: 1 },
            border: { display: false, dash: [1, 3] },
          },
        },
      } as any,
    });
    return () => chart.destroy();
  }, []);

  return (
    <canvas
      ref={ref}
      width={1152}
      height={props.height}
      style={{ position: 'absolute', left: 0, top: props.top, width: 1152, height: props.height, display: 'block' }}
    />
  );
}

export default function App() {
  return (
    <div style={{ position: 'absolute', left: 0, top: 0, width: 1152, height: 791, background: '#fff', overflow: 'hidden' }}>
      <Panel
        top={0}
        height={395}
        pad={{ left: 60, right: 0, top: 32, bottom: 65 }}
        meanFreq={FREQ_V}
        meanVals={MEAN_V}
        meanColor={BLUE}
        recordsA={V_RECORDS_A}
        recordsB={V_RECORDS_B}
        yTitle={Y_TITLE_TOP}
        showTitle={true}
      />
      <Panel
        top={395}
        height={396}
        pad={{ left: 60, right: 0, top: 52, bottom: 46 }}
        meanFreq={FREQ_H}
        meanVals={MEAN_H}
        meanColor={RED}
        recordsA={H_RECORDS_A}
        recordsB={H_RECORDS_B}
        yTitle={Y_TITLE_BOTTOM}
        showTitle={false}
      />
    </div>
  );
}
